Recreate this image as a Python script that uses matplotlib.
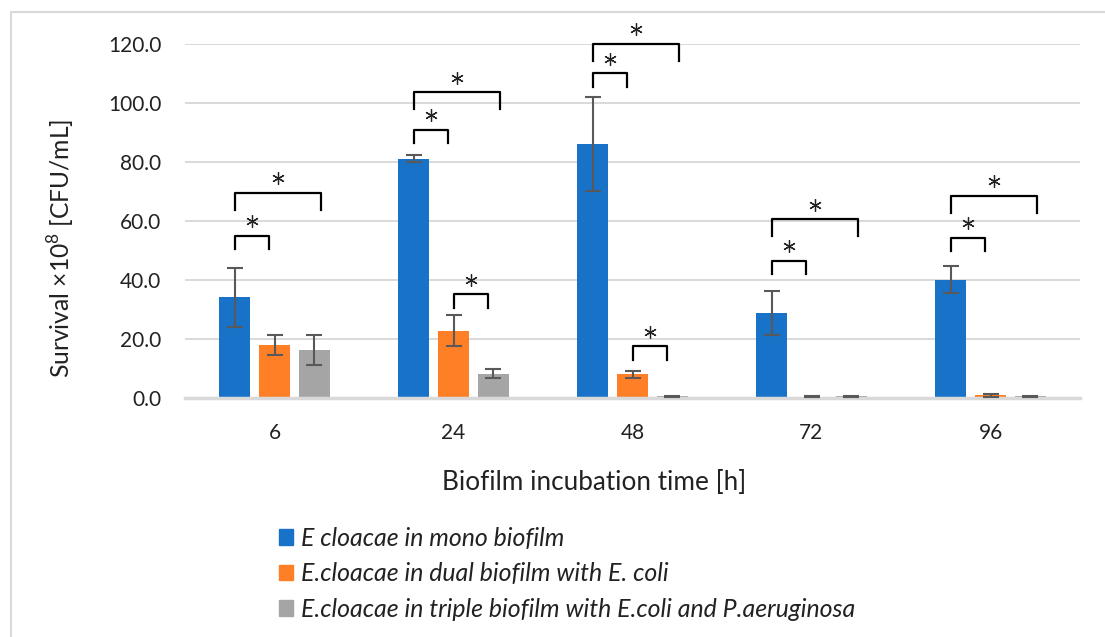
import matplotlib
matplotlib.use("Agg")
from matplotlib import pyplot as plt
from matplotlib.patches import Patch, Rectangle
import numpy as np

plt.rcParams['font.family'] = ['Lato', 'DejaVu Sans']
plt.rcParams['mathtext.fontset'] = 'custom'
plt.rcParams['mathtext.rm'] = 'Lato'

times = ['6', '24', '48', '72', '96']
series = ['E cloacae in mono biofilm',
          'E.cloacae in dual biofilm with E. coli',
          'E.cloacae in triple biofilm with E.coli and P.aeruginosa']

mono = [34.0, 81.0, 86.0, 28.8, 40.0]
mono_err = [10.0, 1.2, 15.8, 7.4, 4.6]
dual = [17.8, 22.7, 8.0, 0.4, 0.9]
dual_err = [3.4, 5.3, 1.2, 0.2, 0.5]
triple = [16.2, 8.2, 0.5, 0.5, 0.5]
triple_err = [5.0, 1.6, 0.2, 0.2, 0.2]

# significance brackets: (time index, bar from, bar to, bracket height)
brackets = [(0, 0, 1, 54.9), (0, 0, 2, 69.5),
            (1, 0, 1, 90.8), (1, 0, 2, 103.5), (1, 1, 2, 35.1),
            (2, 0, 1, 110.0), (2, 0, 2, 120.0), (2, 1, 2, 17.4),
            (3, 0, 1, 46.4), (3, 0, 2, 60.5),
            (4, 0, 1, 54.3), (4, 0, 2, 68.5)]

colors = ['#1872C8', '#FF7F27', '#A5A5A5']
W, H = 1105, 637

fig = plt.figure(figsize=(W / 100, H / 100), dpi=100)
ax = fig.add_axes([185 / W, 1 - 397.7 / H, 895 / W, 354 / H])

x = np.arange(len(times))
pitch = 0.222
width = 0.174
for i, (vals, errs) in enumerate([(mono, mono_err), (dual, dual_err), (triple, triple_err)]):
    ax.bar(x + (i - 1) * pitch, vals, width, color=colors[i], label=series[i], zorder=3)
    ax.errorbar(x + (i - 1) * pitch, vals, yerr=errs, fmt='none', ecolor='#595959',
                elinewidth=1.5, capsize=5.5, capthick=1.5, zorder=4)

span = {1: 0.19, 2: 0.48}
for g, b0, b1, top in brackets:
    x0 = g + (b0 - 1) * pitch
    x1 = x0 + span[b1 - b0]
    leg = 4.6 if b1 - b0 == 1 else 5.8
    ax.plot([x0, x0, x1, x1], [top - leg, top, top, top - leg], color='black',
            lw=1.6, solid_joinstyle='round', clip_on=False, zorder=5)
    ax.plot((x0 + x1) / 2, top + 4.9, marker=(6, 2, 0), ms=9, mew=0.9, color='#222222',
            clip_on=False, zorder=5)

ax.set_xlim(-0.5, 4.5)
ax.set_ylim(0, 120)
ax.set_yticks(np.arange(0, 121, 20))
ax.set_yticklabels(['%.1f' % v for v in np.arange(0, 121, 20)])
ax.set_xticks(x)
ax.set_xticklabels(times)
ax.tick_params(length=0, labelsize=15, colors='#222222')
ax.tick_params(axis='y', pad=17)
ax.tick_params(axis='x', pad=18)
ax.grid(axis='y', color='#D9D9D9', lw=1.4, zorder=0)
for s in ['top', 'right', 'left']:
    ax.spines[s].set_visible(False)
ax.spines['bottom'].set_color('#D9D9D9')
ax.spines['bottom'].set_linewidth(2.5)
ax.spines['bottom'].set_zorder(3.5)

fig.text(61 / W, 1 - 248.5 / H, 'Survival \u00d710$^{8}$ [CFU/mL]', rotation=90,
         ha='center', va='center', fontsize=17.7, color='#222222')
fig.text(594 / W, 1 - 483 / H, 'Biofilm incubation time [h]', ha='center', va='center',
         fontsize=18.8, color='#222222')

handles = [Patch(color=c) for c in colors]
fig.legend(handles, series, loc='upper left', bbox_to_anchor=(279 / W, 1 - 527 / H),
           frameon=False, prop={'style': 'italic', 'size': 17.9}, handlelength=0.58,
           handleheight=0.58, handletextpad=0.3, labelspacing=0.5, borderpad=0,
           borderaxespad=0, labelcolor='#222222')

fig.add_artist(Rectangle((10.5 / W, -0.1), 1.2, 1 - 11.7 / H + 0.1, transform=fig.transFigure,
                         fill=False, ec='#D9D9D9', lw=1.5))

fig.savefig('out.png', dpi=100)
